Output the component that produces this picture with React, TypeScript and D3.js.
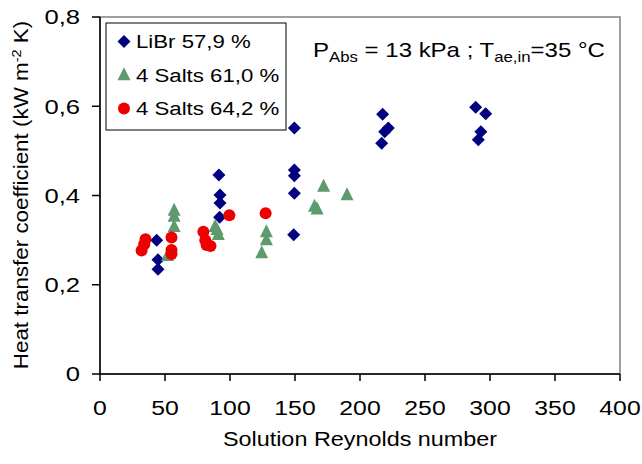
import React from "react";
import * as d3 from "d3";

type Pt = [number, number];

// LiBr 57,9 %
const libr: Pt[] = [
  [43.6, 0.3], [44.6, 0.256], [44.6, 0.235],
  [91.5, 0.446], [92.3, 0.401], [92.3, 0.383], [92, 0.351],
  [149.5, 0.551], [149.5, 0.457], [149.5, 0.444], [149.5, 0.405], [149, 0.312],
  [217.4, 0.582], [221.8, 0.551], [219, 0.543], [216.7, 0.517],
  [289, 0.598], [296.7, 0.583], [293, 0.543], [291, 0.525],
];
// 4 Salts 61,0 %
const salts61: Pt[] = [
  [52, 0.265], [57, 0.366], [57, 0.353], [57, 0.33],
  [88.5, 0.33], [90, 0.323], [91, 0.312],
  [124.4, 0.271], [128, 0.318], [128, 0.3],
  [165, 0.375], [167, 0.369], [172, 0.42], [190, 0.401],
];
// 4 Salts 64,2 %
const salts64: Pt[] = [
  [32, 0.277], [34, 0.291], [35, 0.302],
  [55, 0.306], [55, 0.278], [55, 0.269],
  [79.5, 0.319], [81, 0.3], [82, 0.289], [85, 0.287],
  [99.5, 0.356], [127.4, 0.36],
];

const xTicks = [0, 50, 100, 150, 200, 250, 300, 350, 400];
const yTicks = [0, 0.2, 0.4, 0.6, 0.8];
const legendLabels = ["LiBr 57,9 %", "4 Salts 61,0 %", "4 Salts 64,2 %"];

const W = 642;
const H = 464;
const FONT = "'Liberation Sans', Arial, sans-serif";

const BLUE = "#000080";
const GREEN = "#5e9a6e";
const RED = "#ee0000";

function Marker({ kind, x, y }: { kind: number; x: number; y: number }) {
  if (kind === 0) {
    const s = 6.5;
    return <path d={`M${x},${y - s}L${x + s},${y}L${x},${y + s}L${x - s},${y}Z`} fill={BLUE} />;
  }
  if (kind === 1) {
    const h = 13, w = 13;
    return (
      <path
        d={`M${x},${y - h * 0.6}L${x + w / 2},${y + h * 0.4}L${x - w / 2},${y + h * 0.4}Z`}
        fill={GREEN}
      />
    );
  }
  return <circle cx={x} cy={y} r={6} fill={RED} />;
}

// text drawn a bit wider than the font, like the original's stretched image
function Txt({ x, y, size, sx = 1.18, anchor = "start", rot = 0, children }: any) {
  return (
    <g transform={`translate(${x},${y}) rotate(${rot}) scale(${sx},1)`}>
      <text dy="0.35em" textAnchor={anchor} fontSize={size}>
        {children}
      </text>
    </g>
  );
}

export default function App() {
  const x = d3.scaleLinear().domain([0, 400]).range([100, 620]);
  const y = d3.scaleLinear().domain([0, 0.8]).range([374, 17]);
  const fmt = (v: number) => (v === 0 ? "0" : d3.format(".1f")(v).replace(".", ","));
  const series = [libr, salts61, salts64];

  return (
    <svg width={W} height={H} style={{ position: "absolute", left: 0, top: 0 }} fontFamily={FONT}>
      <rect width={W} height={H} fill="#fff" />
      {/* plot frame */}
      <rect x={x(0)} y={y(0.8)} width={x(400) - x(0)} height={y(0) - y(0.8)} fill="none" stroke="#808080" strokeWidth={1.5} />
      <line x1={x(0)} x2={x(0)} y1={y(0.8)} y2={y(0)} stroke="#000" strokeWidth={1.5} />
      <line x1={x(0)} x2={x(400)} y1={y(0)} y2={y(0)} stroke="#000" strokeWidth={1.5} />

      {yTicks.map((t) => (
        <g key={"y" + t}>
          <line x1={x(0) - 8} x2={x(0)} y1={y(t)} y2={y(t)} stroke="#000" strokeWidth={1.5} />
          <Txt x={x(0) - 20} y={y(t)} anchor="end" size={21} sx={1.22}>
            {fmt(t)}
          </Txt>
        </g>
      ))}
      {xTicks.map((t) => (
        <g key={"x" + t}>
          <line x1={x(t)} x2={x(t)} y1={y(0)} y2={y(0) + 7} stroke="#000" strokeWidth={1.5} />
          <Txt x={x(t)} y={y(0) + 34} anchor="middle" size={21} sx={1.18}>
            {t}
          </Txt>
        </g>
      ))}

      <Txt x={(x(0) + x(400)) / 2} y={439} anchor="middle" size={20} sx={1.17}>
        Solution Reynolds number
      </Txt>
      <Txt x={21} y={195} anchor="middle" size={20} rot={-90} sx={1.12}>
        Heat transfer coefficient (kW m<tspan dy="-7" fontSize={13}>-2</tspan>
        <tspan dy="7"> K)</tspan>
      </Txt>

      {series.map((s, k) => (
        <g key={"s" + k}>
          {s.map((p, i) => (
            <Marker key={i} kind={k} x={x(p[0])} y={y(p[1])} />
          ))}
        </g>
      ))}

      {/* legend */}
      <rect x={106} y={23} width={180} height={107} fill="#fff" stroke="#000" strokeWidth={1} />
      {legendLabels.map((l, i) => (
        <g key={l}>
          <Marker kind={i} x={124} y={41.5 + i * 33.5} />
          <Txt x={136} y={41.5 + i * 33.5} size={19} sx={1.17}>
            {l}
          </Txt>
        </g>
      ))}

      <Txt x={313} y={50} size={20} sx={1.2}>
        P<tspan dy="5" fontSize={14}>Abs</tspan>
        <tspan dy="-5"> = 13 kPa ; T</tspan>
        <tspan dy="5" fontSize={14}>ae,in</tspan>
        <tspan dy="-5">=35 °C</tspan>
      </Txt>
    </svg>
  );
}
